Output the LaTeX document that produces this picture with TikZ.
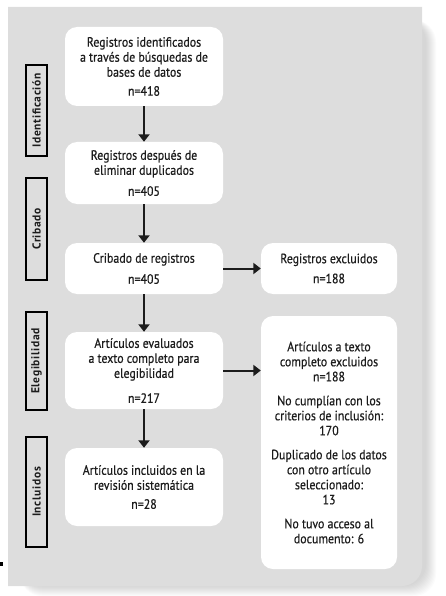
\documentclass[tikz,border=0pt]{standalone}
\usepackage{fontspec}
\setmainfont{PT Sans}[FakeStretch=0.88, FakeBold=0.5]
\newfontfamily\labfont{PT Sans Bold}[LetterSpace=6]
\usetikzlibrary{arrows.meta}
\definecolor{panel}{RGB}{221,221,221}
\definecolor{ink}{RGB}{28,28,28}
\begin{document}
\begin{tikzpicture}[x=1pt,y=-1pt,
  box/.style={fill=white, rounded corners=12pt, align=center, inner sep=0pt, text=ink,
    font=\fontsize{13.5}{15}\selectfont},
  lab/.style={draw=black, line width=1.2pt, fill=panel, rotate=90, inner sep=0pt,
    minimum height=21pt, text=ink, font=\labfont\fontsize{11.5}{13}\selectfont},
  arr/.style={line width=2pt, draw=ink, -{Triangle[width=11pt,length=7.5pt]}}]
\useasboundingbox (0,0) rectangle (446,596);
% shadow
\foreach \s in {0,1,...,10}
  \fill[black, opacity=0.014, rounded corners=22pt] (20,20) rectangle (436-\s,596-\s);
% panel
\fill[panel] (8,7) -- (422,7) -- (422,566) .. controls (422,577) and (413,586) .. (402,586) -- (8,586) -- cycle;
\fill[black] (0,562) rectangle (2.5,565.5);
% stage labels
\node[lab, minimum width=91pt]  (lid)  at (36.5,110.5) {Identificación};
\node[lab, minimum width=102pt] (lcr)  at (36.5,229)   {Cribado};
\node[lab, minimum width=98pt]  (lel)  at (36.5,361)   {Elegibilidad};
\node[lab, minimum width=110pt] (lin)  at (36.5,492)   {Incluidos};
% boxes
\node[box, minimum width=158pt, minimum height=79pt] (b1) at (144,66.5)
  {Registros identificados\\a través de búsquedas de\\bases de datos\\[4pt]n=418};
\node[box, minimum width=158pt, minimum height=62pt] (b2) at (144,173)
  {Registros después de\\eliminar duplicados\\[6pt]n=405};
\node[box, minimum width=158pt, minimum height=51pt] (b3) at (144,268.5)
  {Cribado de registros\\[6pt]n=405};
\node[box, minimum width=158pt, minimum height=77pt] (b4) at (144,370.5)
  {Artículos evaluados\\a texto completo para\\elegibilidad\\[10pt]n=217};
\node[box, minimum width=158pt, minimum height=78pt] (b5) at (144,487)
  {Artículos incluidos en la\\revisión sistemática\\[4pt]n=28};
\node[box, minimum width=136pt, minimum height=51pt] (r1) at (329,268.5)
  {Registros excluidos\\[5pt]n=188};
\node[box, minimum width=136pt, minimum height=253pt] (r2) at (329,442.5)
  {Artículos a texto\\completo excluidos\\n=188\\[9pt]No cumplían con los\\criterios de inclusión:\\170\\[9pt]Duplicado de los datos\\con otro artículo\\seleccionado:\\13\\[9pt]No tuvo acceso al\\documento: 6};
% arrows
\draw[arr] (b1) -- (b2);
\draw[arr] (b2) -- (b3);
\draw[arr] (b3) -- (b4);
\draw[arr] (b4) -- (b5);
\draw[arr] (b3) -- (r1);
\draw[arr] (b4.east) -- (b4.east -| r2.west);
\end{tikzpicture}
\end{document}
